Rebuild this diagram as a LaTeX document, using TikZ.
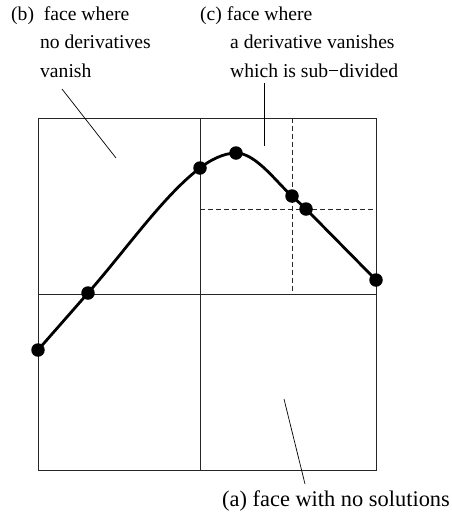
\documentclass[tikz,border=0pt]{standalone}
\usepackage{fontspec}
\setmainfont{Liberation Serif}
\usetikzlibrary{positioning}

\begin{document}
\begin{tikzpicture}[
  x=1pt, y=-1pt,
  grid/.style={draw=black!85, line width=1pt},
  subgrid/.style={grid, dash pattern=on 5pt off 3pt},
  curve/.style={line width=2.8pt, line cap=round, line join=round},
  dot/.style={circle, fill=black, inner sep=0pt, minimum size=13.5pt},
  txt/.style={anchor=base west, inner sep=0pt, font=\fontsize{19.6}{24}\selectfont},
  bigtxt/.style={txt, font=\fontsize{22.4}{27}\selectfont},
  leader/.style={line width=0.7pt}
]
\useasboundingbox (0,0) rectangle (451,512);
% faces
\draw[grid] (38,118) rectangle (376,470);
\draw[grid] (200,118) -- (200,470);
\draw[grid] (38,294) -- (376,294);
\draw[subgrid] (292,118) -- (292,294);
\draw[subgrid] (200,209) -- (376,209);
% solutions on the curve
\node[dot] (p1) at (38,350) {};
\node[dot] (p2) at (88,293) {};
\node[dot] (p3) at (200,168) {};
\node[dot] (p4) at (236,153) {};
\node[dot] (p5) at (292,196) {};
\node[dot] (p6) at (306,209) {};
\node[dot] (p7) at (376,280) {};
\draw[curve] (p1.center) -- (p2.center)
  .. controls (125,251) and (164,195) .. (p3.center)
  .. controls (210,160) and (224,153) .. (p4.center)
  .. controls (256,153) and (277,183) .. (p5.center)
  -- (p6.center) -- (p7.center);
% labels
\node[txt] (b1) at (11,20.5) {(b)\ \ face where};
\node[txt] (b2) at (40,48.5) {no derivatives};
\node[txt] (b3) at (40,77) {vanish};
\node[txt] (c1) at (200,20.5) {(c) face where};
\node[txt] (c2) at (230,48.5) {a derivative vanishes};
\node[txt] (c3) at (230,77) {which is sub−divided};
\node[bigtxt] (a1) at (222,506) {(a) face with no solutions};
% leaders
\coordinate (bStart) at (62,89);
\coordinate (bEnd) at (116,158);
\coordinate (cStart) at (264,83);
\coordinate (cEnd) at (264,146);
\coordinate (aStart) at (305,484);
\coordinate (aEnd) at (284,399);
\draw[leader] (bStart) -- (bEnd);
\draw[leader] (cStart) -- (cEnd);
\draw[leader] (aStart) -- (aEnd);
\end{tikzpicture}
\end{document}
